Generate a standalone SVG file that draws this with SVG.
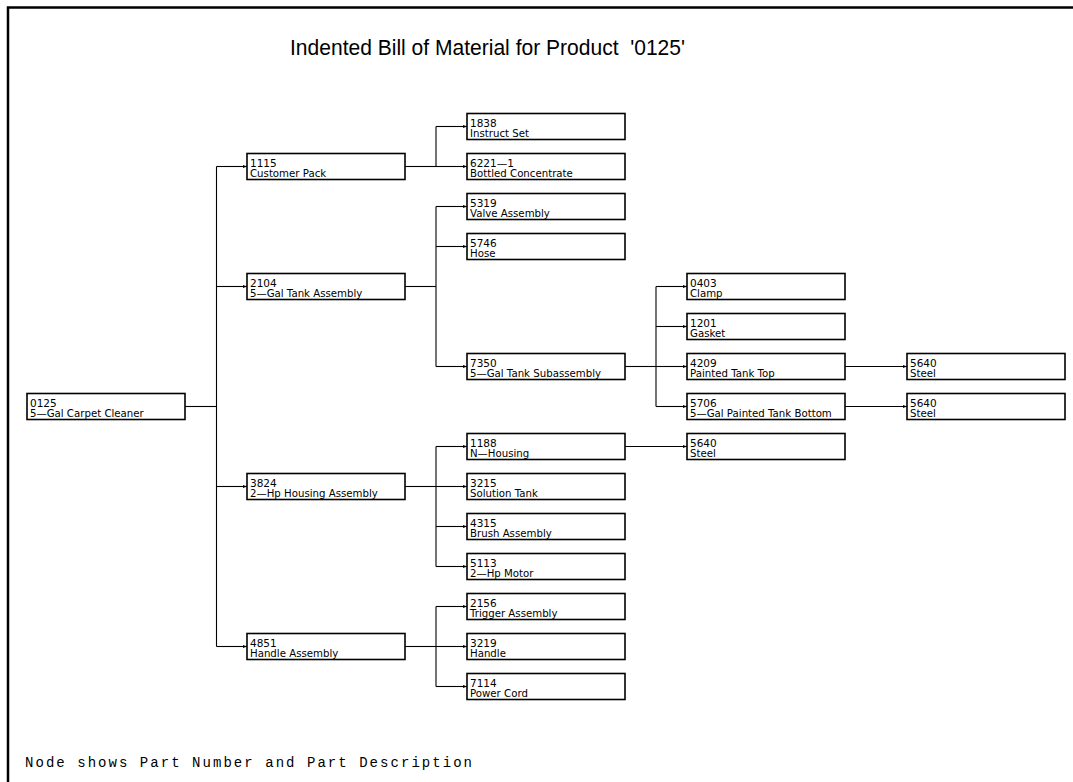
<svg xmlns="http://www.w3.org/2000/svg" width="1073" height="782" viewBox="0 0 1073 782">
<style>
.bg{fill:#fff}
.frame{fill:none;stroke:#000;stroke-width:2.5}
.box{fill:#fff;stroke:#000;stroke-width:1.6}
.num{font-family:"DejaVu Sans",sans-serif;font-size:10.5px;fill:#000}
.desc{font-family:"DejaVu Sans",sans-serif;font-size:10.2px;fill:#000}
.conn path{fill:none;stroke:#000;stroke-width:1.1}
.title{font-family:"Liberation Sans",Arial,sans-serif;font-size:22px;fill:#000}
.foot{font-family:"Liberation Mono","DejaVu Sans Mono",monospace;font-size:14px;fill:#000}
</style>
<defs>
<marker id="arr" markerWidth="5" markerHeight="4" refX="4" refY="2" orient="auto" markerUnits="userSpaceOnUse">
<path d="M0,0.5 L4,2 L0,3.5 Z" fill="#000"/>
</marker>
</defs>
<rect class="bg" x="0" y="0" width="1073" height="782"/>
<path class="frame" d="M8,782 L8,7.5 L1073,7.5"/>
<text class="title" x="290" y="55" textLength="395" lengthAdjust="spacingAndGlyphs" xml:space="preserve">Indented Bill of Material for Product  '0125'</text>
<g class="conn" id="connectors">
<path d="M185,406.5 H216.5"/>
<path d="M216.5,166.5 V646.5"/>
<path d="M216.5,166.5 H247" marker-end="url(#arr)"/>
<path d="M216.5,286.5 H247" marker-end="url(#arr)"/>
<path d="M216.5,486.5 H247" marker-end="url(#arr)"/>
<path d="M216.5,646.5 H247" marker-end="url(#arr)"/>
<path d="M405,166.5 H436"/>
<path d="M436,126.5 V166.5"/>
<path d="M436,126.5 H467" marker-end="url(#arr)"/>
<path d="M436,166.5 H467" marker-end="url(#arr)"/>
<path d="M405,286.5 H436"/>
<path d="M436,206.5 V366.5"/>
<path d="M436,206.5 H467" marker-end="url(#arr)"/>
<path d="M436,246.5 H467" marker-end="url(#arr)"/>
<path d="M436,366.5 H467" marker-end="url(#arr)"/>
<path d="M625,366.5 H656"/>
<path d="M656,286.5 V406.5"/>
<path d="M656,286.5 H687" marker-end="url(#arr)"/>
<path d="M656,326.5 H687" marker-end="url(#arr)"/>
<path d="M656,366.5 H687" marker-end="url(#arr)"/>
<path d="M656,406.5 H687" marker-end="url(#arr)"/>
<path d="M845,366.5 H907" marker-end="url(#arr)"/>
<path d="M845,406.5 H907" marker-end="url(#arr)"/>
<path d="M405,486.5 H436"/>
<path d="M436,446.5 V566.5"/>
<path d="M436,446.5 H467" marker-end="url(#arr)"/>
<path d="M436,486.5 H467" marker-end="url(#arr)"/>
<path d="M436,526.5 H467" marker-end="url(#arr)"/>
<path d="M436,566.5 H467" marker-end="url(#arr)"/>
<path d="M625,446.5 H687" marker-end="url(#arr)"/>
<path d="M405,646.5 H436"/>
<path d="M436,606.5 V686.5"/>
<path d="M436,606.5 H467" marker-end="url(#arr)"/>
<path d="M436,646.5 H467" marker-end="url(#arr)"/>
<path d="M436,686.5 H467" marker-end="url(#arr)"/>
</g>
<g id="n0125"><rect class="box" x="27" y="393.5" width="158" height="26"/><text class="num" x="30" y="407">0125</text><text class="desc" x="30" y="417">5—Gal Carpet Cleaner</text></g>
<g id="n1115"><rect class="box" x="247" y="153.5" width="158" height="26"/><text class="num" x="250" y="167">1115</text><text class="desc" x="250" y="177">Customer Pack</text></g>
<g id="n2104"><rect class="box" x="247" y="273.5" width="158" height="26"/><text class="num" x="250" y="287">2104</text><text class="desc" x="250" y="297">5—Gal Tank Assembly</text></g>
<g id="n3824"><rect class="box" x="247" y="473.5" width="158" height="26"/><text class="num" x="250" y="487">3824</text><text class="desc" x="250" y="497">2—Hp Housing Assembly</text></g>
<g id="n4851"><rect class="box" x="247" y="633.5" width="158" height="26"/><text class="num" x="250" y="647">4851</text><text class="desc" x="250" y="657">Handle Assembly</text></g>
<g id="n1838"><rect class="box" x="467" y="113.5" width="158" height="26"/><text class="num" x="470" y="127">1838</text><text class="desc" x="470" y="137">Instruct Set</text></g>
<g id="n6221-1"><rect class="box" x="467" y="153.5" width="158" height="26"/><text class="num" x="470" y="167">6221—1</text><text class="desc" x="470" y="177">Bottled Concentrate</text></g>
<g id="n5319"><rect class="box" x="467" y="193.5" width="158" height="26"/><text class="num" x="470" y="207">5319</text><text class="desc" x="470" y="217">Valve Assembly</text></g>
<g id="n5746"><rect class="box" x="467" y="233.5" width="158" height="26"/><text class="num" x="470" y="247">5746</text><text class="desc" x="470" y="257">Hose</text></g>
<g id="n7350"><rect class="box" x="467" y="353.5" width="158" height="26"/><text class="num" x="470" y="367">7350</text><text class="desc" x="470" y="377">5—Gal Tank Subassembly</text></g>
<g id="n1188"><rect class="box" x="467" y="433.5" width="158" height="26"/><text class="num" x="470" y="447">1188</text><text class="desc" x="470" y="457">N—Housing</text></g>
<g id="n3215"><rect class="box" x="467" y="473.5" width="158" height="26"/><text class="num" x="470" y="487">3215</text><text class="desc" x="470" y="497">Solution Tank</text></g>
<g id="n4315"><rect class="box" x="467" y="513.5" width="158" height="26"/><text class="num" x="470" y="527">4315</text><text class="desc" x="470" y="537">Brush Assembly</text></g>
<g id="n5113"><rect class="box" x="467" y="553.5" width="158" height="26"/><text class="num" x="470" y="567">5113</text><text class="desc" x="470" y="577">2—Hp Motor</text></g>
<g id="n2156"><rect class="box" x="467" y="593.5" width="158" height="26"/><text class="num" x="470" y="607">2156</text><text class="desc" x="470" y="617">Trigger Assembly</text></g>
<g id="n3219"><rect class="box" x="467" y="633.5" width="158" height="26"/><text class="num" x="470" y="647">3219</text><text class="desc" x="470" y="657">Handle</text></g>
<g id="n7114"><rect class="box" x="467" y="673.5" width="158" height="26"/><text class="num" x="470" y="687">7114</text><text class="desc" x="470" y="697">Power Cord</text></g>
<g id="n0403"><rect class="box" x="687" y="273.5" width="158" height="26"/><text class="num" x="690" y="287">0403</text><text class="desc" x="690" y="297">Clamp</text></g>
<g id="n1201"><rect class="box" x="687" y="313.5" width="158" height="26"/><text class="num" x="690" y="327">1201</text><text class="desc" x="690" y="337">Gasket</text></g>
<g id="n4209"><rect class="box" x="687" y="353.5" width="158" height="26"/><text class="num" x="690" y="367">4209</text><text class="desc" x="690" y="377">Painted Tank Top</text></g>
<g id="n5706"><rect class="box" x="687" y="393.5" width="158" height="26"/><text class="num" x="690" y="407">5706</text><text class="desc" x="690" y="417">5—Gal Painted Tank Bottom</text></g>
<g id="n5640c"><rect class="box" x="687" y="433.5" width="158" height="26"/><text class="num" x="690" y="447">5640</text><text class="desc" x="690" y="457">Steel</text></g>
<g id="n5640a"><rect class="box" x="907" y="353.5" width="158" height="26"/><text class="num" x="910" y="367">5640</text><text class="desc" x="910" y="377">Steel</text></g>
<g id="n5640b"><rect class="box" x="907" y="393.5" width="158" height="26"/><text class="num" x="910" y="407">5640</text><text class="desc" x="910" y="417">Steel</text></g>
<text class="foot" x="25" y="767" textLength="447" lengthAdjust="spacing">Node shows Part Number and Part Description</text>
</svg>
